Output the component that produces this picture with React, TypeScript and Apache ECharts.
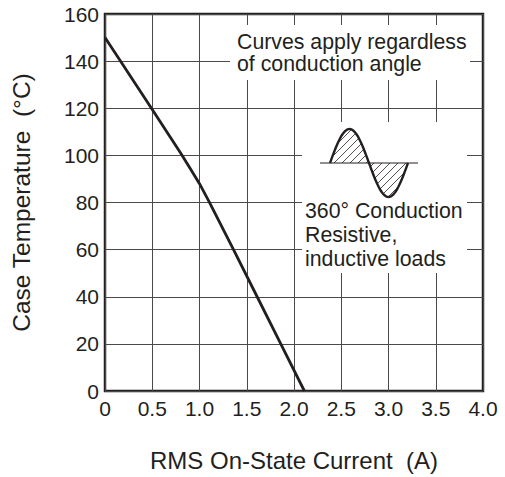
import React, { useEffect, useRef } from "react";
import * as echarts from "echarts";

const current = [0, 0.5, 0.8, 0.9, 1.0, 1.1, 1.36, 1.61, 1.86, 2.11];
const caseTemp = [150, 119.5, 101, 94.5, 88, 80.5, 60, 40, 20, 0];
const xTicks = ["0", "0.5", "1.0", "1.5", "2.0", "2.5", "3.0", "3.5", "4.0"];
const yTicks = ["0", "20", "40", "60", "80", "100", "120", "140", "160"];
const xName = "RMS On-State Current  (A)";
const yName = "Case Temperature  (°C)";
const note1 = ["Curves apply regardless", "of conduction angle"];
const note2 = ["360° Conduction", "Resistive,", "inductive loads"];

const FONT = '"Liberation Sans", Arial, Helvetica, sans-serif';
const INK = "#231f20";

function sinePoints(x0: number, x1: number, base: number, amp: number, n: number) {
  const pts: number[][] = [];
  for (let i = 0; i <= n; i++) {
    const t = i / n;
    const x = x0 + (x1 - x0) * t;
    pts.push([x, base - amp * Math.sin(2 * Math.PI * t)]);
  }
  return pts;
}

function hatchLines(x0: number, x1: number, base: number, amp: number, step: number) {
  const half = (x1 - x0) / 2;
  const inside = (x: number, y: number) => {
    if (x < x0 || x > x1) return false;
    const t = (x - x0) / (x1 - x0);
    const s = base - amp * Math.sin(2 * Math.PI * t);
    if (x <= x0 + half) return y >= s && y <= base;
    return y <= s && y >= base;
  };
  const lines: any[] = [];
  for (let c = x0 - 60; c < x1 + 60; c += step) {
    let first: number[] | null = null;
    let last: number[] | null = null;
    const segs: number[][][] = [];
    for (let x = x0; x <= x1; x += 0.25) {
      const y = base - (x - c);
      const inn = inside(x, y);
      if (inn) {
        if (!first) first = [x, y];
        last = [x, y];
      } else if (first && last) {
        segs.push([first, last]);
        first = null;
        last = null;
      }
    }
    if (first && last) segs.push([first, last]);
    for (const s of segs) {
      if (Math.hypot(s[1][0] - s[0][0], s[1][1] - s[0][1]) < 2) continue;
      lines.push({
        type: "line",
        shape: { x1: s[0][0], y1: s[0][1], x2: s[1][0], y2: s[1][1] },
        style: { stroke: INK, lineWidth: 0.8 },
        z: 101,
      });
    }
  }
  return lines;
}

export default function App() {
  const ref = useRef<HTMLDivElement>(null);
  useEffect(() => {
    if (!ref.current) return;
    const chart = echarts.init(ref.current, null, { renderer: "svg" });
    const wx0 = 330, wx1 = 408, wBase = 163, wAmp = 34;
    const option: any = {
      animation: false,
      backgroundColor: "#ffffff",
      grid: {
        left: 105,
        right: 22,
        top: 14,
        bottom: 85,
        show: true,
        borderColor: INK,
        borderWidth: 2.5,
        backgroundColor: "transparent",
        containLabel: false,
      },
      xAxis: {
        type: "value",
        min: 0,
        max: 4,
        interval: 0.5,
        name: xName,
        nameLocation: "middle",
        nameGap: 57,
        nameTextStyle: { fontFamily: FONT, fontSize: 24, color: INK },
        axisLine: { show: false },
        axisTick: { show: false },
        axisLabel: {
          margin: 7,
          fontFamily: FONT,
          fontSize: 21,
          color: INK,
          formatter: (v: number) => xTicks[Math.round(v / 0.5)] ?? String(v),
        },
        splitLine: { show: true, lineStyle: { color: "#4a4a4a", width: 1 } },
      },
      yAxis: {
        type: "value",
        min: 0,
        max: 160,
        interval: 20,
        name: yName,
        nameLocation: "middle",
        nameGap: 71,
        nameTextStyle: { fontFamily: FONT, fontSize: 24.5, color: INK },
        axisLine: { show: false },
        axisTick: { show: false },
        axisLabel: {
          margin: 6,
          fontFamily: FONT,
          fontSize: 21,
          color: INK,
          formatter: (v: number) => yTicks[Math.round(v / 20)] ?? String(v),
        },
        splitLine: { show: true, lineStyle: { color: "#4a4a4a", width: 1 } },
      },
      series: [
        {
          type: "line",
          data: current.map((x, i) => [x, caseTemp[i]]),
          showSymbol: false,
          symbol: "none",
          lineStyle: { color: INK, width: 2.8 },
          z: 5,
        },
      ],
      graphic: [
        {
          type: "rect",
          shape: { x: 230, y: 25, width: 240, height: 55 },
          style: { fill: "#ffffff" },
          z: 100,
        },
        {
          type: "rect",
          shape: { x: 302, y: 122, width: 165, height: 151 },
          style: { fill: "#ffffff" },
          z: 100,
        },
        {
          type: "text",
          x: 237,
          y: 31,
          style: {
            text: note1.join("\n"),
            fontFamily: FONT,
            fontSize: 21.3,
            lineHeight: 21.7,
            fill: INK,
            verticalAlign: "top",
          },
          z: 102,
        },
        {
          type: "text",
          x: 305,
          y: 199,
          style: {
            text: note2.join("\n"),
            fontFamily: FONT,
            fontSize: 21.3,
            lineHeight: 24,
            fill: INK,
            verticalAlign: "top",
          },
          z: 102,
        },
        {
          type: "line",
          shape: { x1: 320, y1: wBase, x2: 418, y2: wBase },
          style: { stroke: INK, lineWidth: 1 },
          z: 101,
        },
        ...hatchLines(wx0, wx1, wBase, wAmp, 8),
        {
          type: "polyline",
          shape: { points: sinePoints(wx0, wx1, wBase, wAmp, 80) },
          style: { stroke: INK, lineWidth: 2.4, fill: null },
          z: 102,
        },
      ],
    };
    chart.setOption(option);
    return () => chart.dispose();
  }, []);
  return (
    <div
      ref={ref}
      style={{ position: "fixed", left: 0, top: 0, width: 505, height: 477 }}
    />
  );
}
